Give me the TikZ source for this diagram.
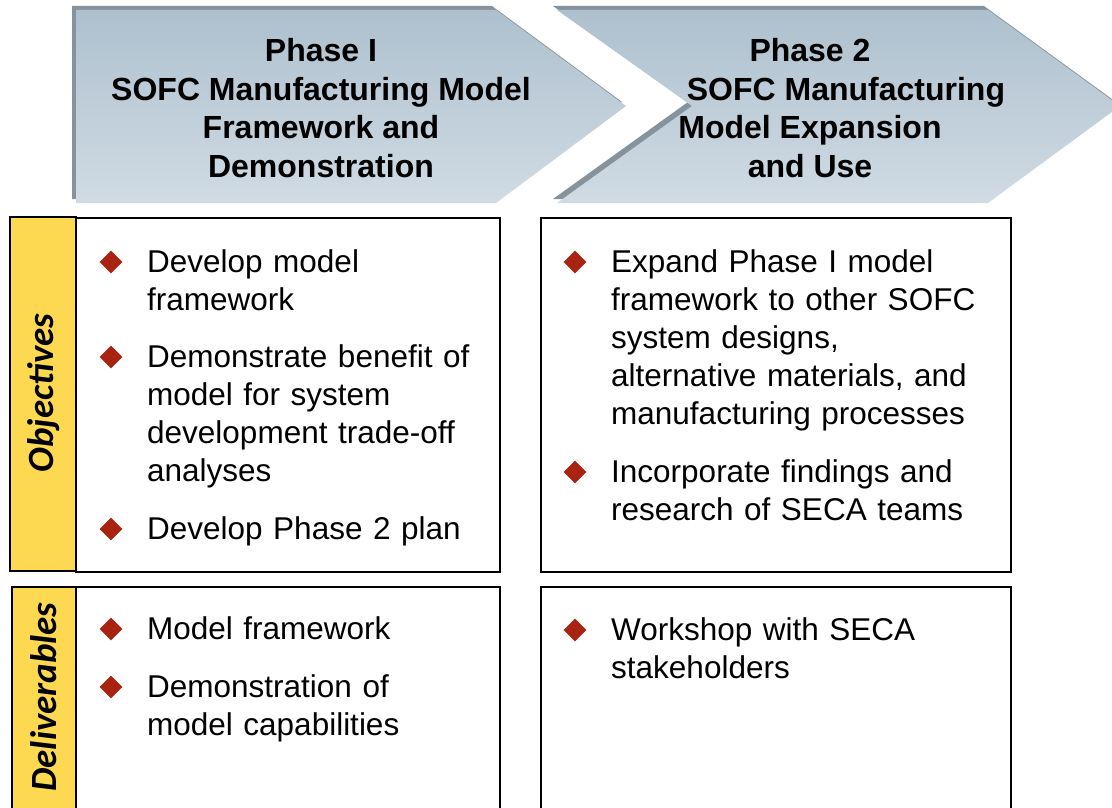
\documentclass[tikz,border=0pt]{standalone}
\usepackage{fontspec}
\setmainfont{Liberation Sans}
\newfontfamily\sidefont{Carlito}
\usetikzlibrary{shapes.geometric, positioning}
\definecolor{phasetop}{RGB}{174,192,206}
\definecolor{phasebottom}{RGB}{208,219,228}
\definecolor{phaseshade}{RGB}{134,147,157}
\definecolor{tabyellow}{RGB}{253,217,82}
\definecolor{bulletred}{RGB}{168,36,16}

\begin{document}
\begin{tikzpicture}[
			x=1pt, y=-1pt,
			every node/.style={inner sep=0pt},
			item/.style={anchor=base west, align=left, text width=380pt, font=\fontsize{31.5}{38}\selectfont},
			bulletmark/.style={diamond, fill=bulletred, minimum size=23pt, inner sep=0pt},
			header/.style={align=center, font=\fontsize{32}{38.5}\selectfont\bfseries},
			sidelabel/.style={rotate=90, font=\sidefont\fontsize{37}{42}\selectfont\bfseries\itshape},
			phase/.style={top color=phasetop, bottom color=phasebottom, draw=none},
			phaseshadow/.style={fill=phaseshade, shift={(-4,-4)}},
			panel/.style={draw=black, line width=2pt, fill=white},
			tab/.style={draw=black, line width=2pt, fill=tabyellow}
			]
			\useasboundingbox (0,0) rectangle (1112,808);
			
			% Phase chevrons
			\fill [phaseshadow] (76,10) -- (496,10) -- (626,106) -- (496,203) -- (76,203) -- cycle;
			\fill [phaseshadow] (557,10) -- (988,10) -- (1120,106) -- (988,203) -- (557,203) -- (692,106) -- cycle;
			\path [phase] (76,10) -- (496,10) -- (626,106) -- (496,203) -- (76,203) -- cycle;
			\path [phase] (557,10) -- (988,10) -- (1120,106) -- (988,203) -- (557,203) -- (692,106) -- cycle;
			
			% Panels
			\draw [panel] (76,218) rectangle (500,572);
			\draw [tab] (10,217) rectangle (76,571);
			\draw [panel] (541,218) rectangle (1011,572);
			\draw [panel] (76,587) rectangle (500,830);
			\draw [tab] (12,587) rectangle (76,830);
			\draw [panel] (541,587) rectangle (1011,830);
			
			% Headers
			\node (phaseA) [header] at (321,108) {Phase I\\SOFC Manufacturing Model\\Framework and\\Demonstration};
			\node (phaseB) [header] at (810,108) {Phase 2\\\hspace*{72pt}SOFC Manufacturing\\Model Expansion\\and Use};
			
			% Side labels
			\node (objlabel) [sidelabel] at (44,393) {Objectives};
			\node (dellabel) [sidelabel] at (44,697) {Deliverables};
			
			% Objectives
			\node (objA1) [item] at (147,272) {Develop model\\framework};
			\node (objA2) [item] at (147,367) {Demonstrate benefit of\\model for system\\development trade-off\\analyses};
			\node (objA3) [item] at (147,539) {Develop Phase 2 plan};
			\node (objB1) [item] at (611,272) {Expand Phase I model\\framework to other SOFC\\system designs,\\alternative materials, and\\manufacturing processes};
			\node (objB2) [item] at (611,482) {Incorporate findings and\\research of SECA teams};
			
			% Deliverables
			\node (delA1) [item] at (147,639) {Model framework};
			\node (delA2) [item] at (147,697) {Demonstration of\\model capabilities};
			\node (delB1) [item] at (611,640) {Workshop with SECA\\stakeholders};
			
			% Bullets
			\node (bulA1) [bulletmark] at ([xshift=-36pt, yshift=10pt]objA1.base west) {};
			\node (bulA2) [bulletmark] at ([xshift=-36pt, yshift=10pt]objA2.base west) {};
			\node (bulA3) [bulletmark] at ([xshift=-36pt, yshift=10pt]objA3.base west) {};
			\node (bulB1) [bulletmark] at ([xshift=-36pt, yshift=10pt]objB1.base west) {};
			\node (bulB2) [bulletmark] at ([xshift=-36pt, yshift=10pt]objB2.base west) {};
			\node (bulC1) [bulletmark] at ([xshift=-36pt, yshift=10pt]delA1.base west) {};
			\node (bulC2) [bulletmark] at ([xshift=-36pt, yshift=10pt]delA2.base west) {};
			\node (bulD1) [bulletmark] at ([xshift=-36pt, yshift=10pt]delB1.base west) {};
			
		\end{tikzpicture}
\end{document}
